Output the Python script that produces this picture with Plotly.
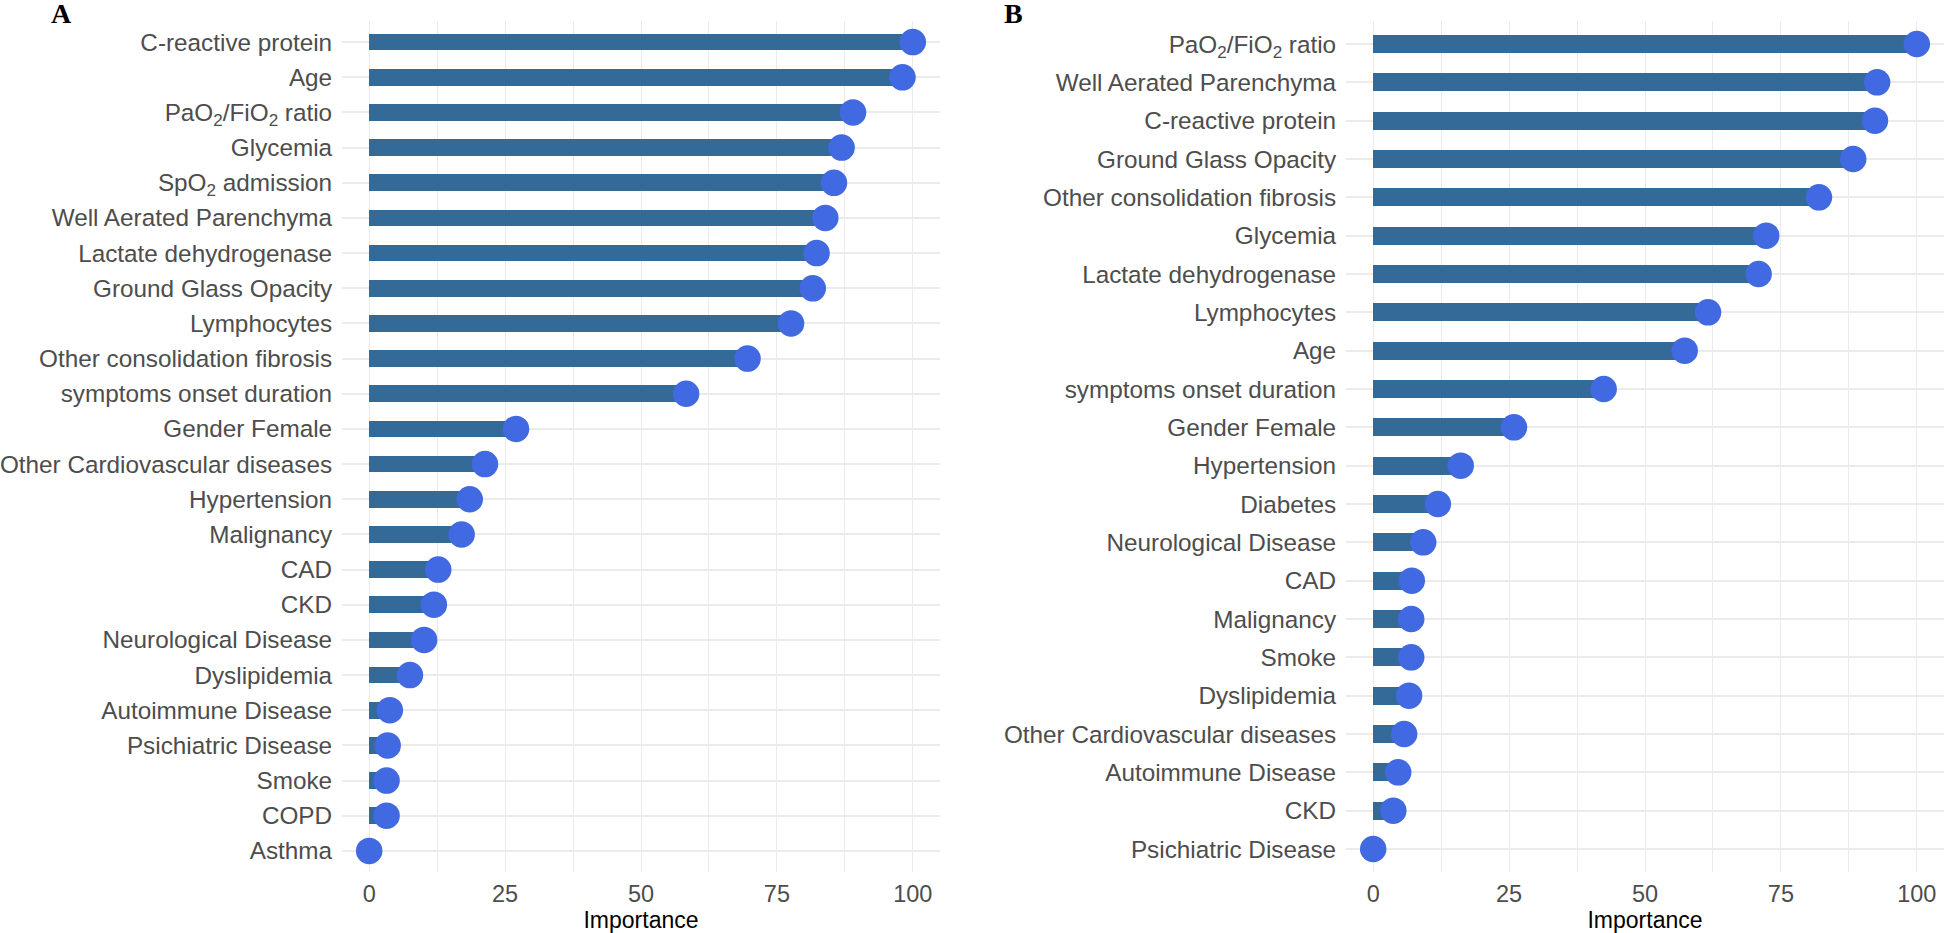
import plotly.graph_objects as go

# Panel A (top to bottom)
cats_a = ["C-reactive protein", "Age", "PaO<sub>2</sub>/FiO<sub>2</sub> ratio", "Glycemia",
          "SpO<sub>2</sub> admission", "Well Aerated Parenchyma", "Lactate dehydrogenase",
          "Ground Glass Opacity", "Lymphocytes", "Other consolidation fibrosis",
          "symptoms onset duration", "Gender Female", "Other Cardiovascular diseases",
          "Hypertension", "Malignancy", "CAD", "CKD", "Neurological Disease",
          "Dyslipidemia", "Autoimmune Disease", "Psichiatric Disease", "Smoke", "COPD", "Asthma"]
vals_a = [100, 98.1, 89.0, 86.9, 85.5, 83.9, 82.3, 81.6, 77.6, 69.6, 58.3, 27.0, 21.3,
          18.5, 17.0, 12.7, 11.9, 10.1, 7.5, 3.8, 3.4, 3.2, 3.2, 0]

# Panel B (top to bottom)
cats_b = ["PaO<sub>2</sub>/FiO<sub>2</sub> ratio", "Well Aerated Parenchyma", "C-reactive protein",
          "Ground Glass Opacity", "Other consolidation fibrosis", "Glycemia",
          "Lactate dehydrogenase", "Lymphocytes", "Age", "symptoms onset duration",
          "Gender Female", "Hypertension", "Diabetes", "Neurological Disease", "CAD",
          "Malignancy", "Smoke", "Dyslipidemia", "Other Cardiovascular diseases",
          "Autoimmune Disease", "CKD", "Psichiatric Disease"]
vals_b = [100, 92.7, 92.3, 88.3, 82.0, 72.3, 70.9, 61.6, 57.3, 42.4, 25.9, 16.1, 11.9,
          9.2, 7.1, 7.0, 7.0, 6.6, 5.7, 4.6, 3.7, 0]

x_ticks = [0, 25, 50, 75, 100]

BAR = "#336A98"
DOT = "#4169E1"
GRID = "#EBEBEB"
FONT = "Liberation Sans, Arial, sans-serif"

fig = go.Figure()

for cats, vals, xa, ya in [(cats_a, vals_a, "x", "y"), (cats_b, vals_b, "x2", "y2")]:
    fig.add_trace(go.Bar(x=vals, y=cats, orientation="h", base=0, width=0.475,
                         marker=dict(color=BAR, line=dict(width=0)),
                         xaxis=xa, yaxis=ya, showlegend=False, hoverinfo="skip"))
    fig.add_trace(go.Scatter(x=vals, y=cats, mode="markers",
                             marker=dict(color=DOT, size=26.5, line=dict(width=0)),
                             xaxis=xa, yaxis=ya, showlegend=False))

ydom = [(933 - 872) / 933, (933 - 21) / 933]

def xaxis_cfg(domain, anchor):
    return dict(domain=domain, anchor=anchor, range=[-5, 105], tickvals=x_ticks,
                ticktext=[str(t) for t in x_ticks],
                showgrid=True, gridcolor=GRID, gridwidth=1.3, zeroline=False,
                showline=False, ticks="outside", ticklen=1, tickcolor="rgba(0,0,0,0)",
                tickfont=dict(family=FONT, size=23.5, color="#4D4D4D"),
                minor=dict(tickvals=[12.5, 37.5, 62.5, 87.5], showgrid=True,
                           gridcolor=GRID, gridwidth=1.1, ticks=""),
                title=dict(text="Importance", font=dict(family=FONT, size=23, color="black"),
                           standoff=4))

def yaxis_cfg(cats, anchor):
    n = len(cats)
    return dict(domain=ydom, anchor=anchor, type="category",
                categoryorder="array", categoryarray=list(reversed(cats)),
                range=[-0.6, n - 1 + 0.6], showgrid=True, gridcolor=GRID, gridwidth=2,
                zeroline=False, showline=False, ticks="outside", ticklen=4,
                tickcolor="rgba(0,0,0,0)",
                tickfont=dict(family=FONT, size=24.3, color="#4D4D4D"))

fig.update_layout(
    width=1946, height=933,
    margin=dict(l=0, r=0, t=0, b=0),
    paper_bgcolor="white", plot_bgcolor="white",
    bargap=0,
    xaxis=xaxis_cfg([342 / 1946, 940 / 1946], "y"),
    yaxis=yaxis_cfg(cats_a, "x"),
    xaxis2=xaxis_cfg([1346 / 1946, 1944 / 1946], "y2"),
    yaxis2=yaxis_cfg(cats_b, "x2"),
    annotations=[
        dict(text="<b>A</b>", x=61 / 1946, y=1 - 14 / 933, xref="paper", yref="paper",
             xanchor="center", yanchor="middle", showarrow=False,
             font=dict(family="Liberation Serif, Times New Roman, serif", size=28, color="black")),
        dict(text="<b>B</b>", x=1013 / 1946, y=1 - 14 / 933, xref="paper", yref="paper",
             xanchor="center", yanchor="middle", showarrow=False,
             font=dict(family="Liberation Serif, Times New Roman, serif", size=28, color="black")),
    ],
)

fig.write_html("out.html", config={"displayModeBar": False},
               post_script="document.body.style.margin='0';document.body.style.padding='0';"
                           "document.body.style.overflow='hidden';")
